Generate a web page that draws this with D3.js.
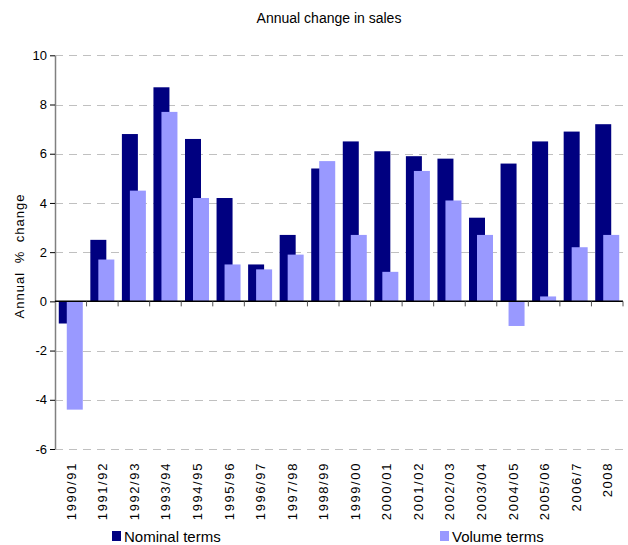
<!DOCTYPE html>
<html>
<head>
<meta charset="utf-8">
<script src="https://cdn.jsdelivr.net/npm/d3@7"></script>
<style>
  body { margin: 0; background: #fff; }
  text { font-family: "Liberation Sans", Arial, sans-serif; fill: #000; }
</style>
</head>
<body>
<div id="chart"></div>
<script>
// data
var years = ["1990/91", "1991/92", "1992/93", "1993/94", "1994/95", "1995/96", "1996/97", "1997/98", "1998/99",
             "1999/00", "2000/01", "2001/02", "2002/03", "2003/04", "2004/05", "2005/06", "2006/7", "2008"];
var nominal = [-0.9, 2.5, 6.8, 8.7, 6.6, 4.2, 1.5, 2.7, 5.4, 6.5, 6.1, 5.9, 5.8, 3.4, 5.6, 6.5, 6.9, 7.2];
var volume  = [-4.4, 1.7, 4.5, 7.7, 4.2, 1.5, 1.3, 1.9, 5.7, 2.7, 1.2, 5.3, 4.1, 2.7, -1.0, 0.2, 2.2, 2.7];
var yTicks = [-6, -4, -2, 0, 2, 4, 6, 8, 10];

var W = 628, H = 545;
var plotLeft = 55, plotRight = 623, plotTop = 55.3, plotBottom = 449;

var svg = d3.select("#chart").append("svg")
    .attr("width", W)
    .attr("height", H);

var x = d3.scaleBand().domain(years).range([plotLeft, plotRight]).padding(0);
var y = d3.scaleLinear().domain([-6, 10]).range([plotBottom, plotTop]);

var bw = x.bandwidth();
var barW = bw * 0.507;
var off = (bw - barW * 1.5) / 2;

// grid lines
svg.append("g")
  .selectAll("line")
  .data(yTicks.filter(function(d) { return d != 0; }))
  .enter().append("line")
    .attr("x1", plotLeft)
    .attr("x2", plotRight)
    .attr("y1", function(d) { return Math.round(y(d)) + 0.5; })
    .attr("y2", function(d) { return Math.round(y(d)) + 0.5; })
    .style("stroke", "#c0c0c0")
    .style("stroke-dasharray", "8,6");

// nominal bars
svg.append("g")
  .selectAll("rect")
  .data(nominal)
  .enter().append("rect")
    .attr("x", function(d, i) { return x(years[i]) + off; })
    .attr("width", barW)
    .attr("y", function(d) { return y(Math.max(0, d)); })
    .attr("height", function(d) { return Math.abs(y(d) - y(0)); })
    .style("fill", "#000080");

// volume bars
svg.append("g")
  .selectAll("rect")
  .data(volume)
  .enter().append("rect")
    .attr("x", function(d, i) { return x(years[i]) + off + barW / 2; })
    .attr("width", barW)
    .attr("y", function(d) { return y(Math.max(0, d)); })
    .attr("height", function(d) { return Math.abs(y(d) - y(0)); })
    .style("fill", "#9999ff");

// y axis
var yAxis = svg.append("g")
    .attr("transform", "translate(" + plotLeft + ",0)")
    .call(d3.axisLeft(y).tickValues(yTicks).tickSize(5).tickSizeOuter(0)
            .tickFormat(function(d) { return String(d); }));
yAxis.select(".domain").style("stroke", "#808080").style("stroke-width", 1.5);
yAxis.selectAll(".tick line").style("stroke", "#000");
yAxis.selectAll(".tick text")
    .attr("x", -8)
    .style("font-size", "13px")
    .style("font-family", "Liberation Sans, Arial, sans-serif");

// x axis along zero
var xAxis = svg.append("g")
    .attr("transform", "translate(0," + y(0) + ")");
xAxis.append("line")
    .attr("x1", plotLeft).attr("x2", plotRight)
    .style("stroke", "#000").style("stroke-width", 1.5);
xAxis.selectAll(".xt")
  .data(years)
  .enter().append("line")
    .attr("x1", function(d) { return x(d) + bw; })
    .attr("x2", function(d) { return x(d) + bw; })
    .attr("y1", 0).attr("y2", 5)
    .style("stroke", "#555");

// category labels at bottom
svg.append("g")
  .selectAll("text")
  .data(years)
  .enter().append("text")
    .attr("transform", function(d) { return "translate(" + (x(d) + bw / 2 + 5) + ",462) rotate(-90)"; })
    .attr("text-anchor", "end")
    .style("font-size", "13px")
    .style("letter-spacing", "1.6px")
    .text(function(d) { return d; });

// title
svg.append("text")
    .attr("x", 329)
    .attr("y", 23)
    .attr("text-anchor", "middle")
    .style("font-size", "14px")
    .text("Annual change in sales");

// y label
svg.append("text")
    .attr("transform", "translate(24,256) rotate(-90)")
    .attr("text-anchor", "middle")
    .style("font-size", "13px")
    .style("letter-spacing", "1px")
    .style("word-spacing", "4px")
    .text("Annual % change");

// legend
var legend = [["Nominal terms", "#000080", 112], ["Volume terms", "#9999ff", 440]];
legend.forEach(function(l) {
  svg.append("rect")
      .attr("x", l[2]).attr("y", 531)
      .attr("width", 9).attr("height", 10)
      .style("fill", l[1]);
  svg.append("text")
      .attr("x", l[2] + 12).attr("y", 542)
      .style("font-size", "15px")
      .text(l[0]);
});
</script>
</body>
</html>
